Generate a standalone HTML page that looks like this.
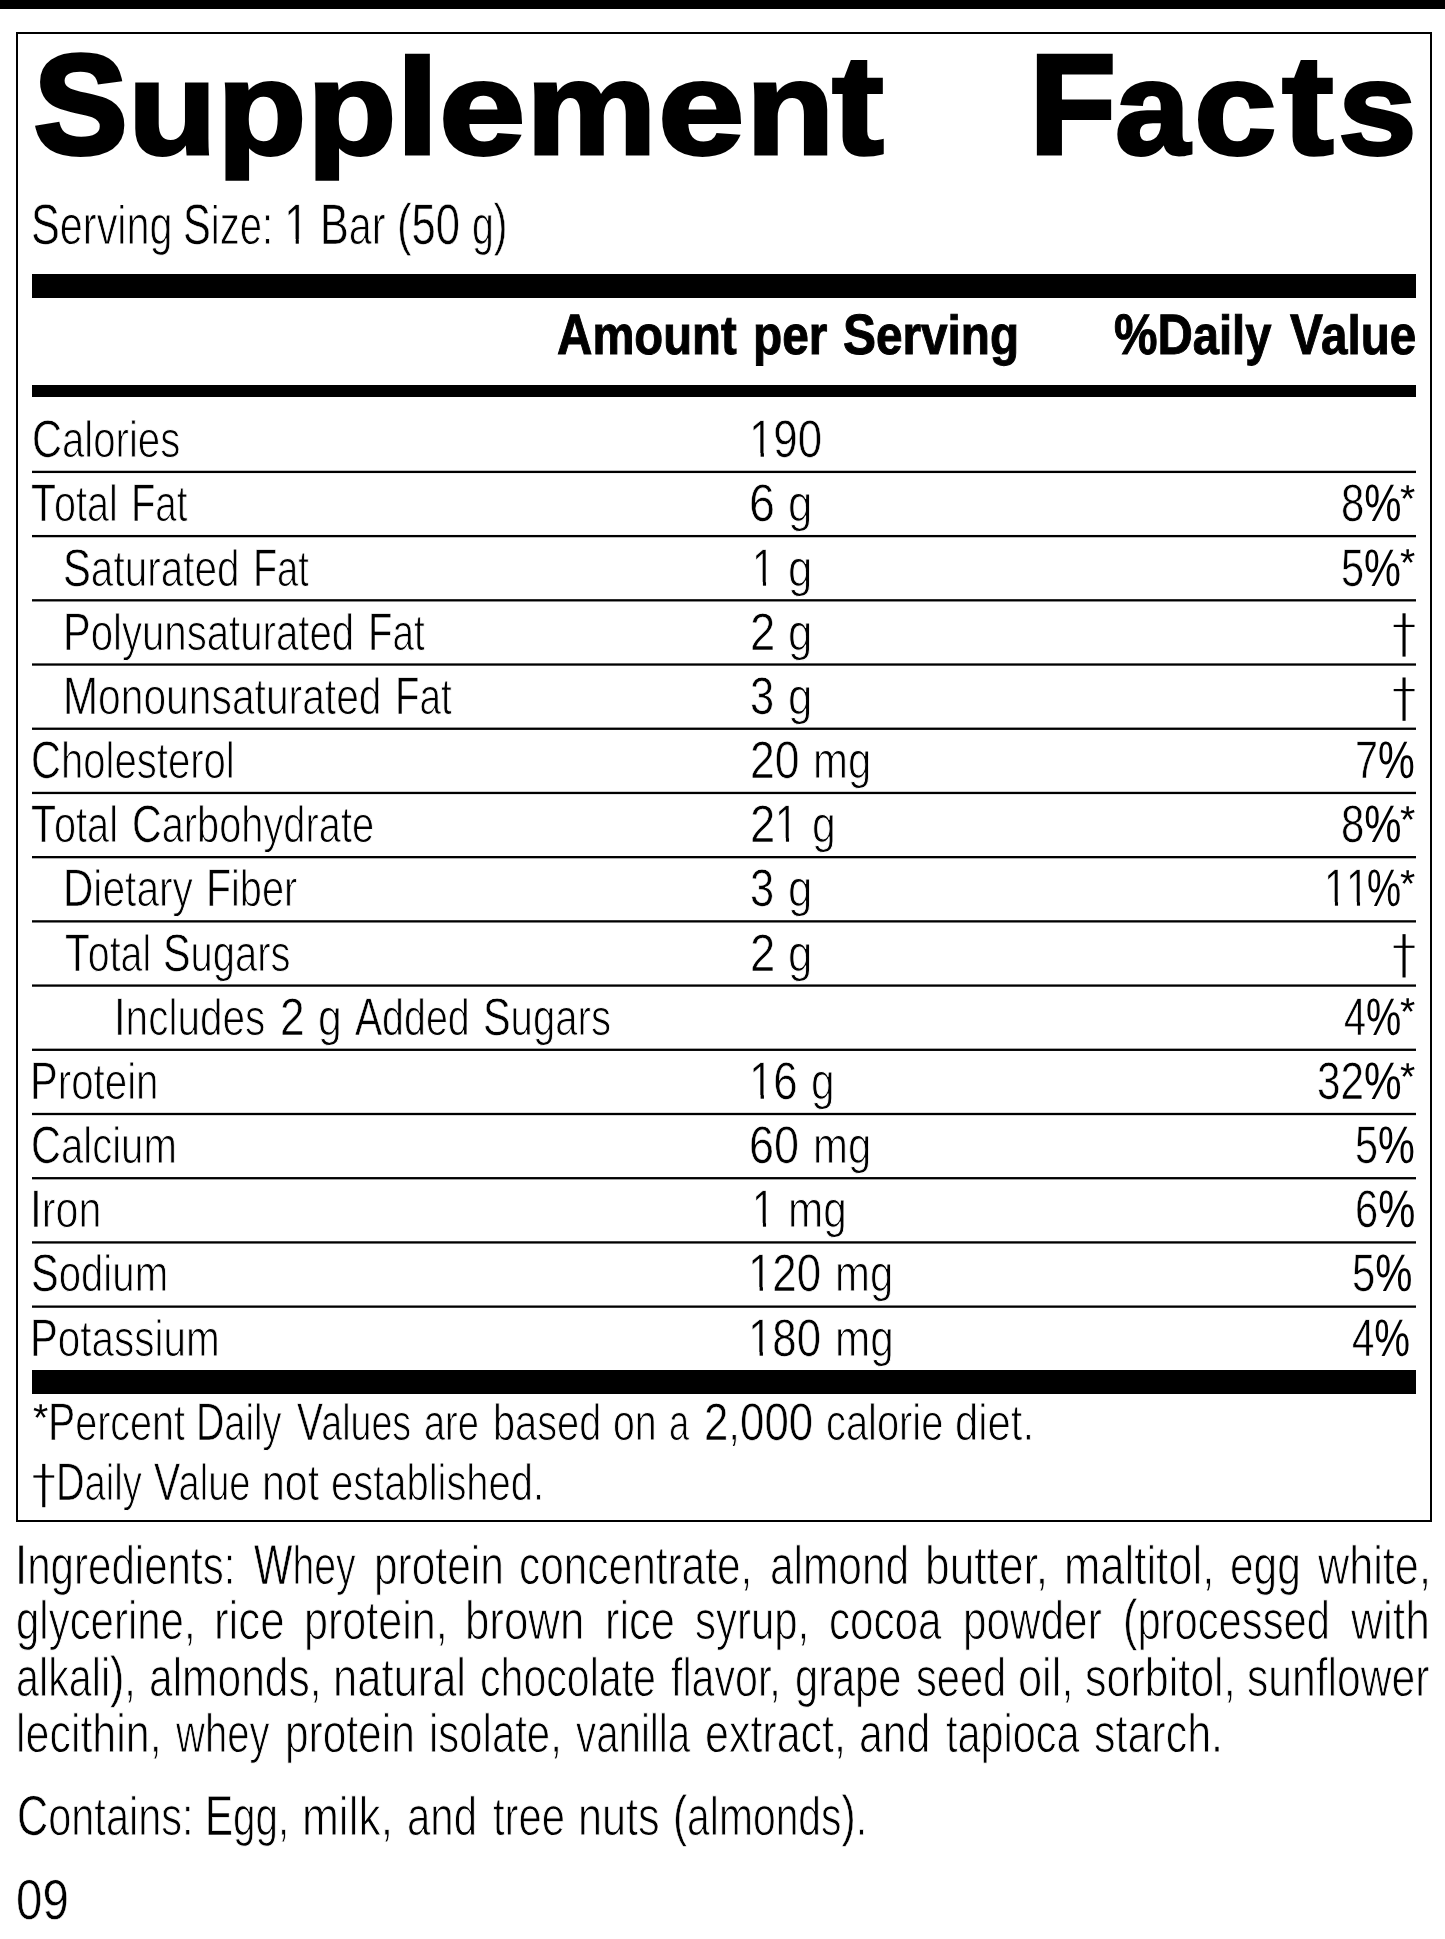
<!doctype html>
<html lang="en"><head><meta charset="utf-8"><title>Supplement Facts</title>
<style>
html,body{margin:0;padding:0;background:#fff;}
html{filter:grayscale(1);}
body{width:1445px;height:1939px;position:relative;overflow:hidden;font-family:"Liberation Sans",sans-serif;color:#000;}
.t{position:absolute;white-space:nowrap;transform-origin:0 0;line-height:1;text-rendering:geometricPrecision;font-kerning:normal;}
.tc{font-size:140.55px;font-weight:700;-webkit-text-stroke:5.0px #000;}
.tl{font-size:132.50px;font-weight:700;-webkit-text-stroke:3.2px #000;}
.tl_l{font-size:136.30px;font-weight:700;-webkit-text-stroke:3.2px #000;}
.tl_t{font-size:141.50px;font-weight:700;-webkit-text-stroke:3.2px #000;}
.hdr{font-size:54.89px;font-weight:700;-webkit-text-stroke:1.0px #000;}
.hdr .c{font-size:56.98px;}
.row{font-size:51.11px;font-weight:400;-webkit-text-stroke:1.0px #fff;}
.row .c{font-size:52.76px;-webkit-text-stroke-width:0.6px;}
.serv{font-size:54.70px;font-weight:400;-webkit-text-stroke:1.0px #fff;}
.serv .c{font-size:56.98px;-webkit-text-stroke-width:0.6px;}
.foot{font-size:51.11px;font-weight:400;-webkit-text-stroke:1.0px #fff;}
.foot .c{font-size:52.76px;-webkit-text-stroke-width:0.6px;}
.ing{font-size:54.33px;font-weight:400;-webkit-text-stroke:1.0px #fff;}
.ing .c{font-size:56.40px;-webkit-text-stroke-width:0.6px;}
.ast{font-size:39.00px;font-weight:400;}
.dag{font-size:54.20px;font-weight:400;-webkit-text-stroke:0.8px #fff;}

.g{margin:0;padding:0;font-size:0;line-height:0;height:0;}
.bar{position:absolute;background:#000;}
.row .p{-webkit-text-stroke-width:0;}
.o{position:relative;display:inline-block;line-height:1;}
.o::before,.o::after{content:"";position:absolute;top:.74em;height:.14em;background:#fff;}
.o::before{left:.04em;width:.2172em;}
.o::after{left:.3341em;width:.21em;}
.dg{position:absolute;width:208px;height:433px;transform-origin:0 0;font-size:0;color:transparent;}
.dg::before{content:"";position:absolute;left:88px;top:0;width:31px;height:433px;background:#000;}
.dg::after{content:"";position:absolute;left:0;top:115px;width:208px;height:22px;background:#000;}
.rule{left:32px;width:1384px;height:2px;transform-origin:0 0;}
#box{position:absolute;left:16px;top:32px;width:1416px;height:1490px;border:2px solid #000;box-sizing:border-box;}
</style></head>
<body>
<div class="bar" style="left:0;top:0;width:1445px;height:9px"></div>
<div id="box"></div>
<div class="bar" style="left:32px;top:274px;width:1384px;height:24px"></div>
<div class="bar" style="left:32px;top:385px;width:1384px;height:12px"></div>
<div class="bar rule" style="top:470px;transform:translateY(0.75px) scaleY(1.15)"></div>
<div class="bar rule" style="top:534px;transform:translateY(0.96px) scaleY(1.15)"></div>
<div class="bar rule" style="top:599px;transform:translateY(0.17px) scaleY(1.15)"></div>
<div class="bar rule" style="top:663px;transform:translateY(0.38px) scaleY(1.15)"></div>
<div class="bar rule" style="top:727px;transform:translateY(0.59px) scaleY(1.15)"></div>
<div class="bar rule" style="top:791px;transform:translateY(0.80px) scaleY(1.15)"></div>
<div class="bar rule" style="top:856px;transform:translateY(0.01px) scaleY(1.15)"></div>
<div class="bar rule" style="top:920px;transform:translateY(0.22px) scaleY(1.15)"></div>
<div class="bar rule" style="top:984px;transform:translateY(0.43px) scaleY(1.15)"></div>
<div class="bar rule" style="top:1048px;transform:translateY(0.64px) scaleY(1.15)"></div>
<div class="bar rule" style="top:1112px;transform:translateY(0.85px) scaleY(1.15)"></div>
<div class="bar rule" style="top:1177px;transform:translateY(0.06px) scaleY(1.15)"></div>
<div class="bar rule" style="top:1241px;transform:translateY(0.27px) scaleY(1.15)"></div>
<div class="bar rule" style="top:1305px;transform:translateY(0.48px) scaleY(1.15)"></div>
<div class="bar" style="left:32px;top:1370px;width:1384px;height:24px"></div>
<h1 class="g"><span class="t tc" style="left:33.51px;top:35.30px;transform:scaleX(0.9950)">S</span><span class="t tl" style="left:127.66px;top:43.20px;transform:scaleX(1.0978)">u</span><span class="t tl" style="left:217.37px;top:43.20px;transform:scaleX(1.1043);clip-path:inset(0 -9px -5.1px -9px)">p</span><span class="t tl" style="left:306.77px;top:43.20px;transform:scaleX(1.1043);clip-path:inset(0 -9px -5.1px -9px)">p</span><span class="t tl_l" style="left:396.41px;top:39.20px;transform:scaleX(1.1356)">l</span><span class="t tl" style="left:438.69px;top:43.20px;transform:scaleX(1.1732)">e</span><span class="t tl" style="left:526.44px;top:43.20px;transform:scaleX(1.1089)">m</span><span class="t tl" style="left:658.19px;top:43.20px;transform:scaleX(1.1732)">e</span><span class="t tl" style="left:745.55px;top:43.20px;transform:scaleX(1.0929)">n</span><span class="t tl_t" style="left:832.22px;top:35.20px;transform:scaleX(1.1016)">t</span> <span class="t tc" style="left:1029.64px;top:35.30px;transform:scaleX(0.9941)">F</span><span class="t tl" style="left:1114.91px;top:43.20px;transform:scaleX(1.0176)">a</span><span class="t tl" style="left:1194.08px;top:43.20px;transform:scaleX(1.1206)">c</span><span class="t tl_t" style="left:1282.23px;top:35.20px;transform:scaleX(1.0995)">t</span><span class="t tl" style="left:1338.26px;top:43.20px;transform:scaleX(1.0687)">s</span></h1>
<p class="g"><span class="t serv" style="left:30.83px;top:197.20px;transform:scaleX(0.7578)"><span class="c">S</span>erving</span> <span class="t serv" style="left:183.21px;top:197.20px;transform:scaleX(0.7310)"><span class="c">S</span>ize:</span> <span class="t serv" style="left:284.46px;top:197.20px;transform:scaleX(0.7800)"><span class="c"><span class="o">1</span></span></span> <span class="t serv" style="left:319.92px;top:197.20px;transform:scaleX(0.7564)"><span class="c">B</span>ar</span> <span class="t serv" style="left:396.73px;top:197.20px;transform:scaleX(0.7645)"><span class="c">(50</span></span> <span class="t serv" style="left:471.83px;top:197.20px;transform:scaleX(0.7181)">g<span class="c">)</span></span></p>
<div class="g"><span class="t hdr" style="left:556.65px;top:306.50px;transform:scaleX(0.8602)"><span class="c">A</span>mount</span> <span class="t hdr" style="left:752.69px;top:307.50px;transform:scaleX(0.8707)">per</span> <span class="t hdr" style="left:843.13px;top:306.50px;transform:scaleX(0.8690)"><span class="c">S</span>erving</span> <span class="t hdr" style="left:1113.54px;top:306.50px;transform:scaleX(0.8585)"><span class="c">%D</span>aily</span> <span class="t hdr" style="left:1290.02px;top:306.50px;transform:scaleX(0.8671)"><span class="c" style="margin-right:-0.04em">V</span>alue</span></div>
<div class="g"><span class="t row" style="left:31.54px;top:414.20px;transform:scaleX(0.7858)"><span class="c">C</span>alories</span> <span class="t row" style="left:748.53px;top:414.20px;transform:scaleX(0.8300)"><span class="c"><span class="o">1</span>90</span></span></div>
<div class="g"><span class="t row" style="left:31.34px;top:478.37px;transform:scaleX(0.7737)"><span class="c" style="margin-right:-0.05em">T</span>otal</span> <span class="t row" style="left:131.01px;top:478.37px;transform:scaleX(0.7552)"><span class="c">F</span>at</span> <span class="t row" style="left:749.25px;top:478.37px;transform:scaleX(0.8842)"><span class="c">6</span></span> <span class="t row" style="left:788.14px;top:478.37px;transform:scaleX(0.8598)">g</span> <span class="t row" style="left:1340.61px;top:478.37px;transform:scaleX(0.7944)"><span class="c">8<span class="p">%</span></span></span><span class="t ast" style="left:1399.65px;top:479.97px;transform:scaleX(1.0036)">*</span></div>
<div class="g"><span class="t row" style="left:63.32px;top:542.54px;transform:scaleX(0.7921)"><span class="c">S</span>aturated</span> <span class="t row" style="left:252.95px;top:542.54px;transform:scaleX(0.7480)"><span class="c">F</span>at</span> <span class="t row" style="left:751.93px;top:542.54px;transform:scaleX(0.7800)"><span class="c"><span class="o">1</span></span></span> <span class="t row" style="left:788.14px;top:542.54px;transform:scaleX(0.8598)">g</span> <span class="t row" style="left:1341.23px;top:542.54px;transform:scaleX(0.7861)"><span class="c">5<span class="p">%</span></span></span><span class="t ast" style="left:1399.65px;top:544.14px;transform:scaleX(1.0036)">*</span></div>
<div class="g"><span class="t row" style="left:63.47px;top:606.71px;transform:scaleX(0.7859)"><span class="c">P</span>olyunsaturated</span> <span class="t row" style="left:367.91px;top:606.71px;transform:scaleX(0.7567)"><span class="c">F</span>at</span> <span class="t row" style="left:749.82px;top:606.71px;transform:scaleX(0.8602)"><span class="c">2</span></span> <span class="t row" style="left:788.14px;top:606.71px;transform:scaleX(0.8598)">g</span> <span class="dg" style="left:1393px;top:613px;transform:translate(0.70px,0.31px) scale(.1)">†</span></div>
<div class="g"><span class="t row" style="left:63.41px;top:670.88px;transform:scaleX(0.7980)"><span class="c">M</span>onounsaturated</span> <span class="t row" style="left:395.10px;top:670.88px;transform:scaleX(0.7581)"><span class="c">F</span>at</span> <span class="t row" style="left:750.34px;top:670.88px;transform:scaleX(0.8247)"><span class="c">3</span></span> <span class="t row" style="left:788.14px;top:670.88px;transform:scaleX(0.8598)">g</span> <span class="dg" style="left:1393px;top:677px;transform:translate(0.70px,0.48px) scale(.1)">†</span></div>
<div class="g"><span class="t row" style="left:30.95px;top:735.05px;transform:scaleX(0.7846)"><span class="c">C</span>holesterol</span> <span class="t row" style="left:749.87px;top:735.05px;transform:scaleX(0.8432)"><span class="c">20</span></span> <span class="t row" style="left:813.12px;top:735.05px;transform:scaleX(0.8206)">mg</span> <span class="t row" style="left:1354.75px;top:735.05px;transform:scaleX(0.7846)"><span class="c">7<span class="p">%</span></span></span></div>
<div class="g"><span class="t row" style="left:31.44px;top:799.22px;transform:scaleX(0.7765)"><span class="c" style="margin-right:-0.05em">T</span>otal</span> <span class="t row" style="left:132.26px;top:799.22px;transform:scaleX(0.7787)"><span class="c">C</span>arbohydrate</span> <span class="t row" style="left:749.82px;top:799.22px;transform:scaleX(0.8602)"><span class="c">2</span></span><span class="t row" style="left:775.13px;top:799.22px;transform:scaleX(0.7800)"><span class="c"><span class="o">1</span></span></span> <span class="t row" style="left:812.40px;top:799.22px;transform:scaleX(0.8368)">g</span> <span class="t row" style="left:1340.61px;top:799.22px;transform:scaleX(0.7944)"><span class="c">8<span class="p">%</span></span></span><span class="t ast" style="left:1399.65px;top:800.82px;transform:scaleX(1.0036)">*</span></div>
<div class="g"><span class="t row" style="left:63.42px;top:863.39px;transform:scaleX(0.7968)"><span class="c">D</span>ietary</span> <span class="t row" style="left:206.31px;top:863.39px;transform:scaleX(0.7766)"><span class="c">F</span>iber</span> <span class="t row" style="left:750.34px;top:863.39px;transform:scaleX(0.8247)"><span class="c">3</span></span> <span class="t row" style="left:788.14px;top:863.39px;transform:scaleX(0.8598)">g</span> <span class="t row" style="left:1324.33px;top:863.39px;transform:scaleX(0.7800)"><span class="c"><span class="o">1</span></span></span><span class="t row" style="left:1345.63px;top:863.39px;transform:scaleX(0.7800)"><span class="c"><span class="o">1</span></span></span><span class="t row" style="left:1367.35px;top:863.39px;transform:scaleX(0.7256)"><span class="c"><span class="p">%</span></span></span><span class="t ast" style="left:1399.65px;top:864.99px;transform:scaleX(1.0036)">*</span></div>
<div class="g"><span class="t row" style="left:65.35px;top:927.56px;transform:scaleX(0.7690)"><span class="c" style="margin-right:-0.05em">T</span>otal</span> <span class="t row" style="left:163.15px;top:927.56px;transform:scaleX(0.7816)"><span class="c">S</span>ugars</span> <span class="t row" style="left:749.82px;top:927.56px;transform:scaleX(0.8602)"><span class="c">2</span></span> <span class="t row" style="left:788.14px;top:927.56px;transform:scaleX(0.8598)">g</span> <span class="dg" style="left:1393px;top:934px;transform:translate(0.70px,0.16px) scale(.1)">†</span></div>
<div class="g"><span class="t row" style="left:114.14px;top:991.73px;transform:scaleX(0.7929)"><span class="c">I</span>ncludes</span> <span class="t row" style="left:280.08px;top:991.73px;transform:scaleX(0.8387)"><span class="c">2</span></span> <span class="t row" style="left:317.50px;top:991.73px;transform:scaleX(0.8368)">g</span> <span class="t row" style="left:354.72px;top:991.73px;transform:scaleX(0.7702)"><span class="c">A</span>dded</span> <span class="t row" style="left:482.84px;top:991.73px;transform:scaleX(0.7848)"><span class="c">S</span>ugars</span> <span class="t row" style="left:1343.87px;top:991.73px;transform:scaleX(0.7507)"><span class="c">4<span class="p">%</span></span></span><span class="t ast" style="left:1399.65px;top:993.33px;transform:scaleX(1.0036)">*</span></div>
<div class="g"><span class="t row" style="left:30.46px;top:1055.90px;transform:scaleX(0.7883)"><span class="c">P</span>rotein</span> <span class="t row" style="left:748.82px;top:1055.90px;transform:scaleX(0.8300)"><span class="c"><span class="o">1</span>6</span></span> <span class="t row" style="left:811.21px;top:1055.90px;transform:scaleX(0.8322)">g</span> <span class="t row" style="left:1316.60px;top:1055.90px;transform:scaleX(0.8020)"><span class="c">32<span class="p">%</span></span></span><span class="t ast" style="left:1399.65px;top:1057.50px;transform:scaleX(1.0036)">*</span></div>
<div class="g"><span class="t row" style="left:30.95px;top:1120.07px;transform:scaleX(0.7849)"><span class="c">C</span>alcium</span> <span class="t row" style="left:749.34px;top:1120.07px;transform:scaleX(0.8526)"><span class="c">60</span></span> <span class="t row" style="left:813.12px;top:1120.07px;transform:scaleX(0.8206)">mg</span> <span class="t row" style="left:1354.94px;top:1120.07px;transform:scaleX(0.7847)"><span class="c">5<span class="p">%</span></span></span></div>
<div class="g"><span class="t row" style="left:29.77px;top:1184.24px;transform:scaleX(0.8063)"><span class="c">I</span>ron</span> <span class="t row" style="left:751.93px;top:1184.24px;transform:scaleX(0.7800)"><span class="c"><span class="o">1</span></span></span> <span class="t row" style="left:788.19px;top:1184.24px;transform:scaleX(0.8285)">mg</span> <span class="t row" style="left:1354.53px;top:1184.24px;transform:scaleX(0.7902)"><span class="c">6<span class="p">%</span></span></span></div>
<div class="g"><span class="t row" style="left:31.14px;top:1248.41px;transform:scaleX(0.7863)"><span class="c">S</span>odium</span> <span class="t row" style="left:747.73px;top:1248.41px;transform:scaleX(0.8300)"><span class="c"><span class="o">1</span>20</span></span> <span class="t row" style="left:835.12px;top:1248.41px;transform:scaleX(0.8206)">mg</span> <span class="t row" style="left:1351.52px;top:1248.41px;transform:scaleX(0.7917)"><span class="c">5<span class="p">%</span></span></span></div>
<div class="g"><span class="t row" style="left:30.24px;top:1312.58px;transform:scaleX(0.7909)"><span class="c">P</span>otassium</span> <span class="t row" style="left:748.33px;top:1312.58px;transform:scaleX(0.8300)"><span class="c"><span class="o">1</span>80</span></span> <span class="t row" style="left:835.09px;top:1312.58px;transform:scaleX(0.8269)">mg</span> <span class="t row" style="left:1352.06px;top:1312.58px;transform:scaleX(0.7616)"><span class="c">4<span class="p">%</span></span></span></div>
<p class="g"><span class="t ast" style="left:32.85px;top:1399.40px;transform:scaleX(1.0036)">*</span><span class="t foot" style="left:47.93px;top:1397.30px;transform:scaleX(0.7726)"><span class="c">P</span>ercent</span> <span class="t foot" style="left:195.97px;top:1397.30px;transform:scaleX(0.7442)"><span class="c">D</span>aily</span> <span class="t foot" style="left:296.85px;top:1397.30px;transform:scaleX(0.7349)"><span class="c" style="margin-right:-0.04em">V</span>alues</span> <span class="t foot" style="left:424.06px;top:1397.30px;transform:scaleX(0.7429)">are</span> <span class="t foot" style="left:493.09px;top:1397.30px;transform:scaleX(0.7772)">based</span> <span class="t foot" style="left:612.89px;top:1397.30px;transform:scaleX(0.7682)">on</span> <span class="t foot" style="left:669.05px;top:1397.30px;transform:scaleX(0.7089)">a</span> <span class="t foot" style="left:703.81px;top:1397.30px;transform:scaleX(0.8293)"><span class="c">2</span>,<span class="c">000</span></span> <span class="t foot" style="left:825.86px;top:1397.30px;transform:scaleX(0.7793)">calorie</span> <span class="t foot" style="left:955.35px;top:1397.30px;transform:scaleX(0.8180)">diet.</span></p>
<p class="g"><span class="dg" style="left:33px;top:1463px;transform:translate(0.40px,0.90px) scale(.1)">†</span><span class="t foot" style="left:55.94px;top:1457.30px;transform:scaleX(0.7487)"><span class="c">D</span>aily</span> <span class="t foot" style="left:153.94px;top:1457.30px;transform:scaleX(0.7438)"><span class="c" style="margin-right:-0.04em">V</span>alue</span> <span class="t foot" style="left:261.79px;top:1457.30px;transform:scaleX(0.8030)">not</span> <span class="t foot" style="left:331.35px;top:1457.30px;transform:scaleX(0.7811)">established.</span></p>
<p class="g"><span class="t ing" style="left:14.84px;top:1536.80px;transform:scaleX(0.7748)"><span class="c">I</span>ngredients:</span> <span class="t ing" style="left:253.56px;top:1536.80px;transform:scaleX(0.7210)"><span class="c">W</span>hey</span> <span class="t ing" style="left:373.97px;top:1538.80px;transform:scaleX(0.7816)">protein</span> <span class="t ing" style="left:519.35px;top:1538.80px;transform:scaleX(0.7804)">concentrate,</span> <span class="t ing" style="left:770.15px;top:1538.80px;transform:scaleX(0.7808)">almond</span> <span class="t ing" style="left:925.24px;top:1538.80px;transform:scaleX(0.8155)">butter,</span> <span class="t ing" style="left:1063.89px;top:1538.80px;transform:scaleX(0.8028)">maltitol,</span> <span class="t ing" style="left:1229.65px;top:1538.80px;transform:scaleX(0.7809)">egg</span> <span class="t ing" style="left:1317.50px;top:1538.80px;transform:scaleX(0.7956)">white,</span></p>
<p class="g"><span class="t ing" style="left:16.18px;top:1594.40px;transform:scaleX(0.7724)">glycerine,</span> <span class="t ing" style="left:214.17px;top:1594.40px;transform:scaleX(0.8075)">rice</span> <span class="t ing" style="left:304.13px;top:1594.40px;transform:scaleX(0.7930)">protein,</span> <span class="t ing" style="left:465.17px;top:1594.40px;transform:scaleX(0.8064)">brown</span> <span class="t ing" style="left:604.51px;top:1594.40px;transform:scaleX(0.7988)">rice</span> <span class="t ing" style="left:694.86px;top:1594.40px;transform:scaleX(0.7722)">syrup,</span> <span class="t ing" style="left:828.97px;top:1594.40px;transform:scaleX(0.7760)">cocoa</span> <span class="t ing" style="left:962.89px;top:1594.40px;transform:scaleX(0.7786)">powder</span> <span class="t ing" style="left:1123.22px;top:1592.40px;transform:scaleX(0.7679)"><span class="c">(</span>processed</span> <span class="t ing" style="left:1351.39px;top:1594.40px;transform:scaleX(0.8153)">with</span></p>
<p class="g"><span class="t ing" style="left:16.21px;top:1649.20px;transform:scaleX(0.7599)">alkali<span class="c">)</span>,</span> <span class="t ing" style="left:149.05px;top:1651.20px;transform:scaleX(0.7826)">almonds,</span> <span class="t ing" style="left:333.10px;top:1651.20px;transform:scaleX(0.8006)">natural</span> <span class="t ing" style="left:479.92px;top:1651.20px;transform:scaleX(0.7564)">chocolate</span> <span class="t ing" style="left:671.05px;top:1651.20px;transform:scaleX(0.7573)">flavor,</span> <span class="t ing" style="left:795.09px;top:1651.20px;transform:scaleX(0.7655)">grape</span> <span class="t ing" style="left:916.08px;top:1651.20px;transform:scaleX(0.7659)">seed</span> <span class="t ing" style="left:1017.60px;top:1651.20px;transform:scaleX(0.7984)">oil,</span> <span class="t ing" style="left:1084.52px;top:1651.20px;transform:scaleX(0.7918)">sorbitol,</span> <span class="t ing" style="left:1247.24px;top:1651.20px;transform:scaleX(0.7843)">sunflower</span></p>
<p class="g"><span class="t ing" style="left:15.54px;top:1707.40px;transform:scaleX(0.7903)">lecithin,</span> <span class="t ing" style="left:175.55px;top:1707.40px;transform:scaleX(0.7369)">whey</span> <span class="t ing" style="left:285.28px;top:1707.40px;transform:scaleX(0.7810)">protein</span> <span class="t ing" style="left:428.72px;top:1707.40px;transform:scaleX(0.7717)">isolate,</span> <span class="t ing" style="left:575.56px;top:1707.40px;transform:scaleX(0.7410)">vanilla</span> <span class="t ing" style="left:705.42px;top:1707.40px;transform:scaleX(0.7912)">extract,</span> <span class="t ing" style="left:858.84px;top:1707.40px;transform:scaleX(0.7857)">and</span> <span class="t ing" style="left:945.75px;top:1707.40px;transform:scaleX(0.7625)">tapioca</span> <span class="t ing" style="left:1094.42px;top:1707.40px;transform:scaleX(0.7916)">starch.</span></p>
<p class="g"><span class="t ing" style="left:16.62px;top:1788.30px;transform:scaleX(0.7645)"><span class="c">C</span>ontains:</span> <span class="t ing" style="left:204.78px;top:1788.30px;transform:scaleX(0.7445)"><span class="c">E</span>gg,</span> <span class="t ing" style="left:302.14px;top:1790.30px;transform:scaleX(0.8147)">milk,</span> <span class="t ing" style="left:406.68px;top:1790.30px;transform:scaleX(0.7725)">and</span> <span class="t ing" style="left:493.04px;top:1790.30px;transform:scaleX(0.7687)">tree</span> <span class="t ing" style="left:577.62px;top:1790.30px;transform:scaleX(0.7958)">nuts</span> <span class="t ing" style="left:672.88px;top:1788.30px;transform:scaleX(0.7518)"><span class="c">(</span>almonds<span class="c">)</span>.</span></p>
<p class="g"><span class="t ing" style="left:16.20px;top:1872.40px;transform:scaleX(0.8419)"><span class="c">09</span></span></p>
</body></html>
